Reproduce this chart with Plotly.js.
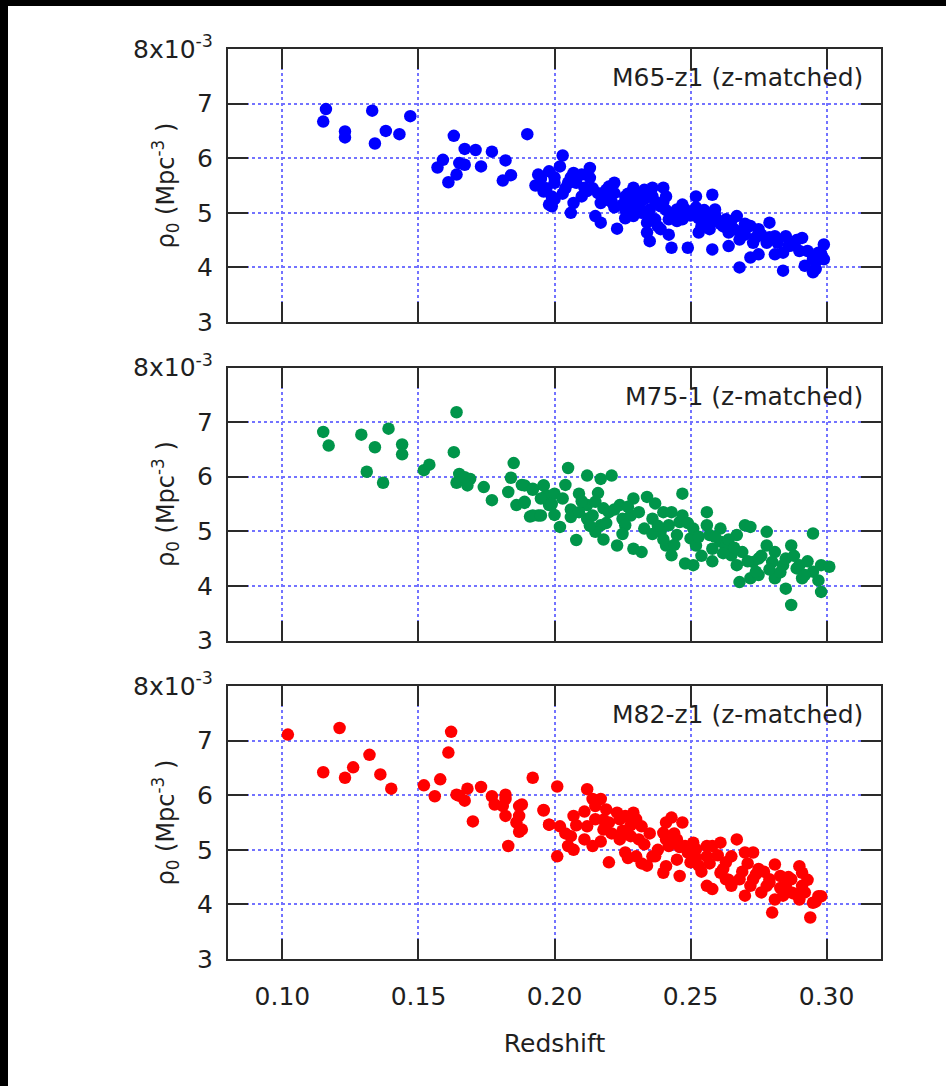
<!DOCTYPE html>
<html>
<head>
<meta charset="utf-8">
<script src="https://cdn.plot.ly/plotly-3.0.1.min.js"></script>
<style>
  html, body { margin: 0; padding: 0; background: #000; width: 946px; height: 1086px; overflow: hidden; }
  #plot { position: absolute; left: 8px; top: 6px; width: 938px; height: 1080px; background: #fff; }
</style>
</head>
<body>
<div id="plot"></div>
<script>
// ---------------- DATA ----------------
const panelLabels = ["M65-z1 (z-matched)", "M75-1 (z-matched)", "M82-z1 (z-matched)"];
const xTickVals = [0.10, 0.15, 0.20, 0.25, 0.30];
const xTickText = ["0.10", "0.15", "0.20", "0.25", "0.30"];
const yTickVals = [3, 4, 5, 6, 7, 8];
const yTickText = ["3", "4", "5", "6", "7", "8x10<sup>-3</sup>"];
const xTitle = "Redshift";
const yTitle = "ρ<sub>0</sub> (Mpc<sup>-3</sup> )";

// M65-z1 (blue)
const m65_z = [0.116,0.115,0.123,0.123,0.133,0.138,0.134,0.143,0.147,0.163,0.190,0.167,0.171,0.177,0.182,
  0.159,0.157,0.165,0.167,0.173,0.164,0.161,0.184,0.181,0.194,0.193,0.196,0.198,
  0.203,0.198,0.202,0.199,0.199,0.207,0.206,0.207,0.210,0.213,0.213,0.211,
  0.216,0.217,0.220,0.222,0.222,0.219,0.215,0.217,0.223,
  0.229,0.233,0.236,0.240,0.241,0.228,0.226,0.231,0.235,0.239,0.229,0.234,0.237,0.234,0.235,0.239,
  0.242,0.245,0.248,0.247,0.252,0.251,0.255,0.258,0.259,0.257,0.253,0.243,0.249,0.258,
  0.263,0.267,0.264,0.268,0.272,0.273,0.264,0.275,0.279,0.278,0.281,0.285,0.286,0.284,0.291,
  0.281,0.272,0.275,0.268,0.284,0.292,0.295,0.297,0.299,0.296,0.295,0.299,
  0.205,0.212,0.218,0.226,0.230,0.236,0.240,0.244,0.248,0.252,0.256,0.260,0.262,0.266,0.270,
  0.274,0.278,0.287,0.290,0.235,0.238,0.242,0.226,0.222,0.200,0.203,
  0.200,0.204,0.208,0.214,0.219,0.221,0.225,0.227,0.231,0.232,0.237,0.241,0.243,0.245,0.247,
  0.250,0.253,0.254,0.257,0.259,0.261,0.265,0.268,0.270,0.276,0.279,0.282,0.289,0.293,0.296,
  0.298,0.255,0.233,0.228,0.210,0.206,0.195,0.197,0.200];
const m65_r = [6.90,6.67,6.49,6.38,6.87,6.50,6.27,6.44,6.77,6.41,6.44,6.17,6.15,6.12,5.96,
  5.97,5.83,5.91,5.88,5.85,5.70,5.56,5.69,5.59,5.70,5.50,5.39,5.15,
  6.05,5.76,5.85,5.30,5.12,5.18,5.00,5.73,5.70,5.82,5.64,5.46,
  5.36,5.18,5.48,5.55,5.36,5.24,4.94,4.82,4.71,
  5.46,5.42,5.46,5.46,5.30,5.24,5.06,5.12,5.06,5.12,4.94,4.82,4.88,4.64,4.48,4.70,
  4.88,5.06,5.06,4.88,5.30,5.00,4.88,5.33,5.06,4.70,4.64,4.36,4.36,4.33,
  4.88,4.94,4.64,4.51,4.76,4.45,4.39,4.70,4.82,4.51,4.57,4.57,4.39,4.27,4.54,
  4.24,4.18,4.24,4.00,3.94,4.03,4.15,4.27,4.42,3.97,3.91,4.15,
  5.55,5.40,5.30,5.30,5.20,5.30,5.20,5.00,4.95,5.10,4.95,4.85,4.75,4.70,4.60,
  4.55,4.45,4.40,4.30,4.90,4.75,4.60,4.90,5.10,5.55,5.35,
  5.65,5.45,5.55,5.45,5.42,5.20,5.15,5.35,5.35,5.00,5.20,5.05,4.95,4.85,5.15,
  4.95,4.90,4.75,4.85,4.95,4.80,4.85,4.65,4.80,4.60,4.55,4.45,4.50,4.30,4.10,
  4.25,5.05,5.25,5.05,5.30,5.65,5.62,5.45,5.25];

// M75-1 (green)
const m75_z = [0.115,0.117,0.129,0.134,0.139,0.144,0.144,0.131,0.137,0.152,0.154,0.164,0.163,
  0.165,0.169,0.168,0.164,0.167,0.174,0.177,0.185,0.184,0.183,0.188,0.192,0.196,0.186,0.189,
  0.191,0.194,0.198,0.197,
  0.205,0.212,0.217,0.221,0.189,0.192,0.196,0.200,0.203,0.189,0.192,0.195,0.202,0.208,0.206,0.209,
  0.212,0.215,0.218,0.214,0.212,0.217,0.220,0.215,0.224,0.225,0.229,0.228,0.226,0.223,0.229,0.232,
  0.234,0.237,0.236,0.240,0.239,0.242,0.241,0.245,0.246,0.247,0.247,0.250,0.251,0.252,0.248,0.243,
  0.251,0.256,0.256,0.257,0.258,0.261,0.261,0.263,0.265,0.267,0.268,0.270,0.272,0.273,0.275,
  0.278,0.278,0.280,0.281,0.284,0.285,0.287,0.287,0.289,0.291,0.295,0.295,0.298,0.301,0.298,0.275,
  0.267,0.272,0.269,0.274,0.281,0.285,0.290,0.292,
  0.195,0.199,0.206,0.209,0.213,0.219,0.222,0.227,0.231,0.233,0.236,0.238,0.243,0.244,0.249,
  0.253,0.254,0.259,0.262,0.264,0.266,0.271,0.276,0.279,0.283,0.288,0.293,0.297,0.218,0.225,
  0.210,0.216,0.204,0.200,0.240,0.258];
const m75_r = [6.82,6.57,6.77,6.54,6.88,6.59,6.41,6.09,5.89,6.12,6.22,7.18,6.45,
  6.05,5.96,5.84,5.89,5.99,5.81,5.57,6.25,5.98,5.72,5.85,5.76,5.84,5.48,5.52,
  5.27,5.29,5.48,5.66,
  6.16,6.02,5.96,6.02,5.84,5.78,5.84,5.69,5.60,5.54,5.29,5.29,5.08,4.84,5.26,5.69,
  5.48,5.54,5.42,5.29,5.23,5.11,5.35,4.99,5.48,5.23,5.60,5.29,5.11,4.74,4.68,4.62,
  5.63,5.51,5.23,5.35,4.99,5.11,4.74,4.93,5.17,5.29,5.69,4.87,5.05,4.74,4.41,4.56,
  4.38,5.35,5.11,4.93,4.68,5.05,4.81,4.74,4.56,4.38,4.07,5.11,4.14,4.44,4.50,
  4.74,4.99,4.44,4.14,4.38,3.95,3.65,4.74,4.32,4.14,4.26,4.96,4.38,4.35,3.89,4.20,
  4.93,5.08,4.62,4.26,4.62,4.50,4.38,4.20,
  5.60,5.50,5.40,5.35,5.10,5.15,5.40,5.45,5.35,5.05,4.95,5.10,5.35,4.75,5.15,
  4.90,4.55,4.90,4.60,4.85,4.70,4.45,4.55,4.30,4.25,4.55,4.45,4.10,4.85,4.95,
  5.55,5.70,5.85,5.30,4.85,4.45];

// M82-z1 (red)
const m82_z = [0.102,0.121,0.115,0.123,0.126,0.132,0.136,0.140,0.152,0.156,0.158,0.161,0.162,
  0.164,0.168,0.167,0.165,0.170,0.173,0.177,0.178,0.182,0.182,0.181,0.182,0.188,0.187,0.186,0.187,
  0.183,0.192,0.196,0.198,0.201,0.196,0.198,0.202,0.187,0.188,0.201,
  0.205,0.206,0.207,0.212,0.214,0.217,0.219,0.212,0.211,0.214,0.215,0.218,0.220,0.223,0.224,0.226,
  0.229,0.230,0.232,0.224,0.228,0.231,0.226,0.230,0.220,0.234,0.236,0.240,0.241,0.243,0.247,0.242,
  0.240,0.237,0.245,0.246,0.251,0.250,0.253,0.256,0.258,0.261,0.261,0.256,0.258,0.263,0.265,0.267,
  0.270,0.273,0.265,0.270,0.273,0.275,0.278,0.281,0.283,0.281,0.280,0.285,0.290,0.291,0.290,0.294,
  0.295,0.297,0.287,0.252,0.256,0.248,0.245,0.241,0.263,0.268,0.272,0.276,0.279,0.284,0.287,0.291,0.292,
  0.208,0.211,0.215,0.218,0.221,0.225,0.228,0.233,0.235,0.238,0.244,0.246,0.249,0.252,0.254,
  0.257,0.260,0.262,0.264,0.269,0.271,0.274,0.277,0.279,0.283,0.286,0.288,0.293,0.296,0.298,
  0.232,0.227,0.217,0.204,0.207,0.241];
const m82_r = [7.11,7.23,6.42,6.32,6.51,6.74,6.38,6.12,6.18,5.98,6.29,6.78,7.16,
  6.01,6.12,5.90,5.99,5.52,6.15,5.98,5.83,6.01,5.93,5.80,5.62,5.83,5.62,5.50,5.33,
  5.07,6.32,5.72,5.46,6.16,5.73,5.46,5.43,5.80,5.37,4.88,
  5.07,5.25,5.62,6.11,5.93,5.93,5.74,5.43,5.19,5.07,5.56,5.37,5.50,5.68,5.56,5.62,
  5.68,5.56,5.43,5.19,5.25,5.19,4.95,4.88,4.77,4.71,4.88,5.31,5.50,5.59,5.50,5.07,
  4.58,4.88,4.82,4.52,5.13,4.77,4.71,4.88,5.07,5.13,4.58,4.34,4.28,4.77,4.88,5.19,
  4.95,4.95,4.34,4.16,4.46,4.65,4.34,4.73,4.52,4.09,3.85,4.34,4.70,4.34,4.09,3.76,
  4.03,4.15,4.46,5.01,5.07,5.07,5.19,5.19,4.46,4.46,4.34,4.22,4.46,4.16,4.22,4.58,4.22,
  5.45,5.70,5.80,5.55,5.30,5.35,5.45,5.10,5.30,5.00,5.30,5.05,4.95,4.85,4.60,
  4.75,4.90,4.65,4.45,4.60,4.75,4.55,4.60,4.40,4.30,4.50,4.20,4.45,4.05,4.15,
  4.75,4.85,5.15,5.30,5.00,4.70];

// ---------------- CHART ----------------
const FONT = "DejaVu Sans, Verdana, sans-serif";
const TXT = "#1f1f1f";
const colors = ["#0000ff", "#00954a", "#ff0000"];
const series = [[m65_z, m65_r], [m75_z, m75_r], [m82_z, m82_r]];

const traces = series.map((s, i) => ({
  type: "scatter", mode: "markers",
  x: s[0], y: s[1],
  xaxis: i === 0 ? "x" : "x" + (i + 1),
  yaxis: i === 0 ? "y" : "y" + (i + 1),
  marker: { color: colors[i], size: 12.5, line: { width: 0 } },
  showlegend: false, hoverinfo: "skip"
}));

const domains = [[0.7, 1.0], [0.35, 0.65], [0.0, 0.3]];
const GRID = "rgb(115,115,255)";

function xAxis(i) {
  return {
    range: [0.08, 0.32], domain: [0, 1],
    anchor: i === 0 ? "y" : "y" + (i + 1),
    tickvals: xTickVals, ticktext: xTickText,
    showticklabels: i === 2,
    ticks: "inside", ticklen: 20, tickwidth: 2, tickcolor: "#2a2a2a",
    showline: true, linecolor: "#2a2a2a", linewidth: 2, mirror: "ticks",
    showgrid: true, gridcolor: GRID, gridwidth: 2, griddash: "dot",
    zeroline: false,
    ticklabelstandoff: 14,
    tickfont: { family: FONT, size: 25, color: TXT },
    title: i === 2 ? { text: xTitle, font: { family: FONT, size: 25, color: TXT }, standoff: 24 } : { text: "" },
    fixedrange: true
  };
}
function yAxis(i) {
  return {
    range: [3, 8], domain: domains[i],
    anchor: i === 0 ? "x" : "x" + (i + 1),
    tickvals: yTickVals, ticktext: yTickText,
    ticks: "inside", ticklen: 20, tickwidth: 2, tickcolor: "#2a2a2a",
    showline: true, linecolor: "#2a2a2a", linewidth: 2, mirror: "ticks",
    showgrid: true, gridcolor: GRID, gridwidth: 2, griddash: "dot",
    zeroline: false,
    ticklabelstandoff: 8,
    tickfont: { family: FONT, size: 25, color: TXT },
    fixedrange: true
  };
}

const layout = {
  width: 938, height: 1080,
  margin: { l: 220, r: 65, t: 43, b: 127 },
  paper_bgcolor: "#ffffff", plot_bgcolor: "#ffffff",
  font: { family: FONT, color: TXT },
  annotations: []
};
for (let i = 0; i < 3; i++) {
  const sx = i === 0 ? "" : String(i + 1);
  layout["xaxis" + sx] = xAxis(i);
  layout["yaxis" + sx] = yAxis(i);
  layout.annotations.push({
    text: panelLabels[i], showarrow: false,
    xref: "x" + sx + " domain", yref: "y" + sx + " domain",
    x: 0.976, y: 0.894, xanchor: "right", yanchor: "middle",
    font: { family: FONT, size: 25, color: TXT }
  });
  layout.annotations.push({
    text: yTitle, showarrow: false, textangle: -90,
    xref: "paper", yref: "y" + sx + " domain",
    x: 0, y: 0.5, xanchor: "center", yanchor: "middle", xshift: -63,
    font: { family: FONT, size: 24, color: TXT }
  });
}

Plotly.newPlot("plot", traces, layout, { staticPlot: true, displayModeBar: false });
</script>
</body>
</html>
